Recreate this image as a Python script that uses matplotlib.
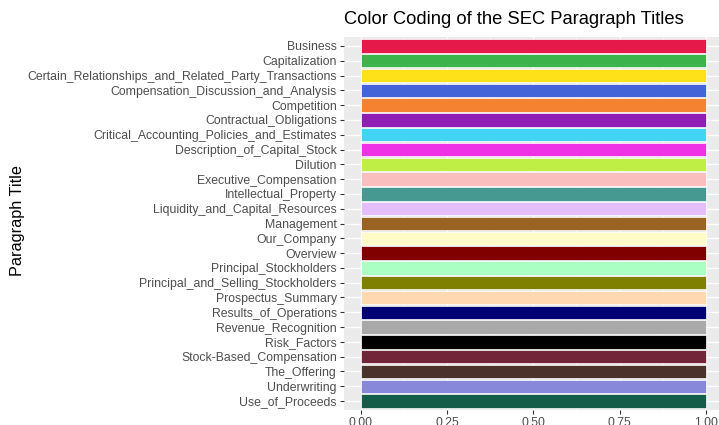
import numpy as np
import matplotlib.pyplot as plt

plt.rcParams['font.family'] = ['Liberation Sans', 'DejaVu Sans']

# paragraph titles, top to bottom
titles = [
    "Business", "Capitalization", "Certain_Relationships_and_Related_Party_Transactions",
    "Compensation_Discussion_and_Analysis", "Competition", "Contractual_Obligations",
    "Critical_Accounting_Policies_and_Estimates", "Description_of_Capital_Stock",
    "Dilution", "Executive_Compensation", "Intellectual_Property",
    "Liquidity_and_Capital_Resources", "Management", "Our_Company", "Overview",
    "Principal_Stockholders", "Principal_and_Selling_Stockholders",
    "Prospectus_Summary", "Results_of_Operations", "Revenue_Recognition",
    "Risk_Factors", "Stock-Based_Compensation", "The_Offering", "Underwriting",
    "Use_of_Proceeds",
]
values = [1.0] * len(titles)
colors = [
    "#e6194b", "#3cb44b", "#ffe119", "#4363d8", "#f58231", "#911eb4",
    "#42d4f4", "#f032e6", "#bfef45", "#fabebe", "#469990", "#e6beff",
    "#9a6324", "#fffac8", "#800000", "#aaffc3", "#808000", "#ffd8b1",
    "#000075", "#a9a9a9", "#000000", "#722538", "#4b332b", "#8788d9",
    "#145e49",
]
xticks = [0.0, 0.25, 0.5, 0.75, 1.0]

W, H = 719, 425
fig = plt.figure(figsize=(W / 100, H / 100), dpi=100)
left, right, top, bottom = 343.75, 723, 37.1, 409.9
ax = fig.add_axes([left / W, 1 - bottom / H, (right - left) / W, (bottom - top) / H])

n = len(titles)
ypos = np.arange(n)[::-1]
ax.set_facecolor("#EBEBEB")
ax.barh(ypos, values, height=0.9, color=colors, edgecolor="white", linewidth=0.5, zorder=3)

ax.set_xlim(-0.05, 1.05)
ax.set_ylim(-0.6, n - 1 + 0.6)
ax.set_xticks(xticks)
ax.set_xticklabels([f"{t:.2f}" for t in xticks])
ax.set_xticks([0.125, 0.375, 0.625, 0.875], minor=True)
ax.set_yticks(ypos)
ax.set_yticklabels(titles)

ax.grid(True, which="major", color="white", linewidth=1.0, zorder=0)
ax.grid(True, which="minor", axis="x", color="white", linewidth=0.5, zorder=0)
ax.tick_params(axis="both", which="major", length=3, width=0.8, color="#333333",
               labelcolor="#4d4d4d", labelsize=8.8, pad=2)
ax.tick_params(axis="both", which="minor", length=0)
for s in ax.spines.values():
    s.set_visible(False)

fig.text(18 / W, 1 - 221 / H, "Paragraph Title", rotation=90, va="center", ha="center",
         fontsize=11.7, color="black")
fig.text(left / W, 1 - 20 / H, "Color Coding of the SEC Paragraph Titles", ha="left",
         va="center", fontsize=13.2, color="black")

fig.savefig("out.png", dpi=100)
